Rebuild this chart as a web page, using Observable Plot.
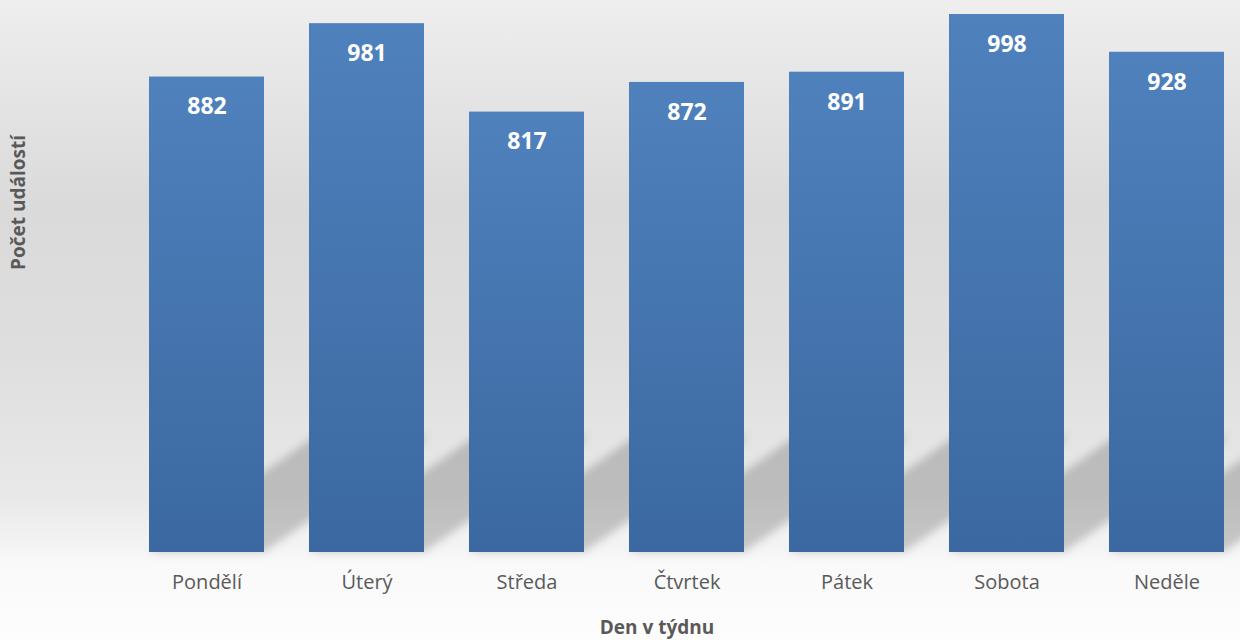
<!DOCTYPE html>
<html>
<head>
<meta charset="utf-8">
<script src="https://cdn.jsdelivr.net/npm/d3@7"></script>
<script src="https://cdn.jsdelivr.net/npm/@observablehq/plot@0.6"></script>
<style>
  html, body { margin: 0; padding: 0; background: #ffffff; }
  #chart svg { display: block; }
</style>
</head>
<body>
<div id="chart"></div>
<script>
const days = ["Pondělí", "Úterý", "Středa", "Čtvrtek", "Pátek", "Sobota", "Neděle"];
const counts = [882, 981, 817, 872, 891, 998, 928];
const xTitle = "Den v týdnu";
const yTitle = "Počet událostí";

const data = days.map((d, i) => ({day: d, count: counts[i]}));

// defs: gradients + blur filter
const defsMark = () => {
  const g = d3.create("svg:g");
  const defs = g.append("defs");
  const bg = defs.append("linearGradient").attr("id", "barGrad")
    .attr("x1", 0).attr("y1", 0).attr("x2", 0).attr("y2", 1);
  bg.append("stop").attr("offset", "0%").attr("stop-color", "#4f81bd");
  bg.append("stop").attr("offset", "100%").attr("stop-color", "#3b68a0");
  const f = defs.append("filter").attr("id", "shadowBlur")
    .attr("x", "-30%").attr("y", "-30%").attr("width", "160%").attr("height", "160%");
  f.append("feGaussianBlur").attr("stdDeviation", 4);
  return g.node();
};

// perspective shadows derived from the band/linear scales
const shadowMark = (index, scales) => {
  const x = scales.x, y = scales.y;
  const bw = x.bandwidth();
  const base = y(0);
  const h = 115, s = 165;
  const g = d3.create("svg:g").attr("filter", "url(#shadowBlur)");
  for (const d of data) {
    const x0 = x(d.day), x1 = x0 + bw;
    g.append("path")
      .attr("d", `M${x0},${base}L${x1},${base}L${x1 + s},${base - h}L${x0 + s},${base - h}Z`)
      .attr("fill", "#000").attr("fill-opacity", 0.19);
  }
  return g.node();
};

const chart = Plot.plot({
  width: 1240,
  height: 640,
  marginTop: 0,
  marginBottom: 88,
  marginLeft: 103,
  marginRight: 0,
  style: {
    fontFamily: "'Open Sans', sans-serif",
    background: "linear-gradient(to bottom, #eeeeee 0%, #dadada 32%, #dedede 55%, #e9e9e9 78%, #f3f3f3 85%, #f9f9f9 88%, #fdfdfd 100%)"
  },
  x: {domain: days, range: [102.7, 1270.3], padding: 0.2826},
  y: {domain: [0, 1024], axis: null},
  marks: [
    defsMark,
    shadowMark,
    Plot.barY(data, {x: "day", y: "count", fill: "url(#barGrad)"}),
    Plot.text(data, {
      x: "day", y: "count", text: d => String(d.count),
      dy: 30, fill: "white", fontWeight: "bold", fontSize: 23
    }),
    Plot.axisX({tickSize: 0, tickPadding: 22, fontSize: 20, color: "#595959", label: null}),
    Plot.text([xTitle], {
      frameAnchor: "bottom", textAnchor: "middle", lineAnchor: "middle",
      dx: -15, dy: 75, fill: "#595959", fontWeight: "bold", fontSize: 19
    }),
    Plot.text([yTitle], {
      frameAnchor: "top-left", textAnchor: "middle", lineAnchor: "middle",
      dx: -85, dy: 202, rotate: -90, fill: "#595959", fontWeight: "bold", fontSize: 19
    })
  ]
});

document.getElementById("chart").appendChild(chart);
</script>
</body>
</html>
